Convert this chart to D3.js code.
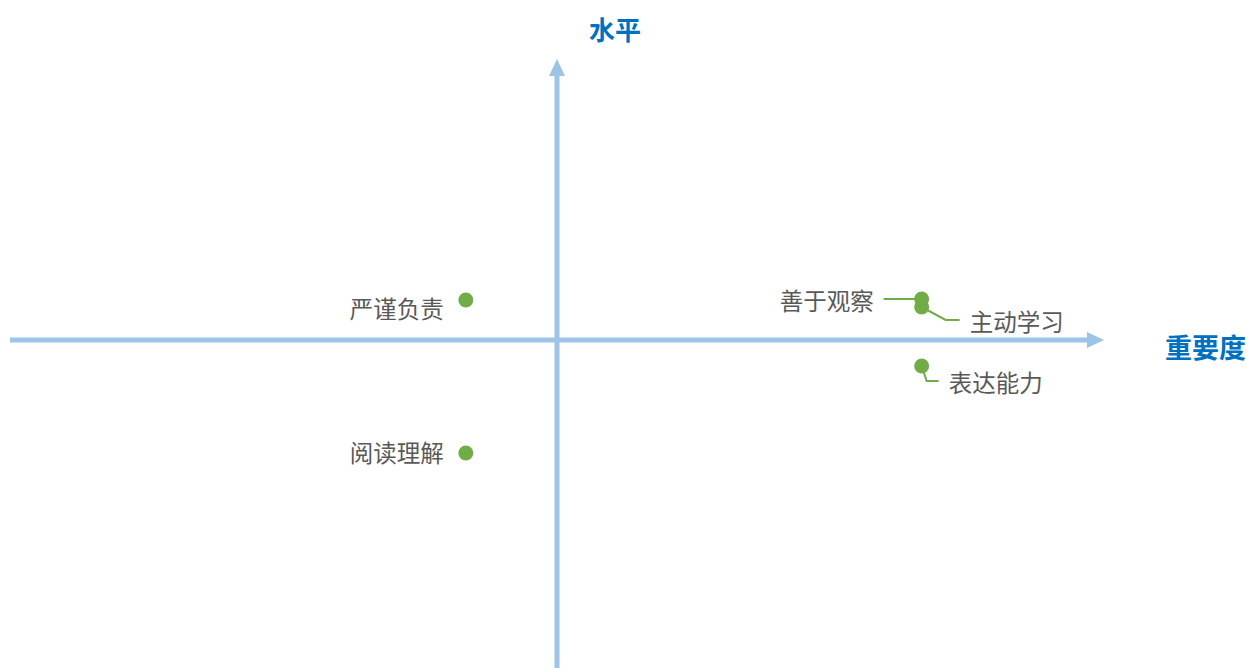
<!DOCTYPE html>
<html>
<head>
<meta charset="utf-8">
<script src="https://d3js.org/d3.v7.min.js"></script>
<style>
  body { margin: 0; background: #fff; }
  text { font-family: "Noto Sans CJK SC", "Noto Sans", sans-serif; }
</style>
</head>
<body>
<script>
  // data
  var names = ["严谨负责", "阅读理解", "善于观察", "主动学习", "表达能力"];
  var importance = [-0.5, -0.5, 2.0, 2.0, 2.0];
  var level = [0.4, -1.13, 0.41, 0.33, -0.26];
  // label side and offsets: [dx, dy] from point, and anchor
  var labelPos = [
    { dx: -22, dy: 8, anchor: "end", leader: null },
    { dx: -22, dy: -1, anchor: "end", leader: null },
    { dx: -48, dy: 1, anchor: "end", leader: [[0, 0], [-38, 0]] },
    { dx: 48, dy: 14, anchor: "start", leader: [[0, 0], [24, 13], [38, 13]] },
    { dx: 27, dy: 16, anchor: "start", leader: [[0, 0], [5, 15], [17, 15]] }
  ];

  const W = 1248, H = 668;
  const axisColor = "#9DC3E6";
  const titleColor = "#0070C0";
  const pointColor = "#70AD47";

  var svg = d3.select("body").append("svg")
    .attr("width", W).attr("height", H);

  var x = d3.scaleLinear().domain([-3, 3]).range([10, 1104]);
  var y = d3.scaleLinear().domain([-3, 3]).range([640, 40]);

  var x0 = x(0), y0 = y(0);

  // horizontal axis
  svg.append("line")
    .attr("x1", x.range()[0]).attr("y1", y0)
    .attr("x2", x.range()[1] - 16).attr("y2", y0)
    .attr("stroke", axisColor).attr("stroke-width", 5);
  svg.append("path")
    .attr("d", `M${x.range()[1] - 17},${y0 - 8} L${x.range()[1]},${y0} L${x.range()[1] - 17},${y0 + 8} Z`)
    .attr("fill", axisColor);

  // vertical axis
  var yTip = 59;
  svg.append("line")
    .attr("x1", x0).attr("y1", H)
    .attr("x2", x0).attr("y2", yTip + 16)
    .attr("stroke", axisColor).attr("stroke-width", 5);
  svg.append("path")
    .attr("d", `M${x0 - 8},${yTip + 17} L${x0},${yTip} L${x0 + 8},${yTip + 17} Z`)
    .attr("fill", axisColor);

  // axis titles
  svg.append("text")
    .attr("x", 615).attr("y", 40)
    .attr("text-anchor", "middle")
    .attr("fill", titleColor)
    .attr("font-size", 26)
    .attr("font-weight", "bold")
    .text("水平");
  svg.append("text")
    .attr("x", 1246).attr("y", 358)
    .attr("text-anchor", "end")
    .attr("fill", titleColor)
    .attr("font-size", 27)
    .attr("font-weight", "bold")
    .text("重要度");

  var data = names.map((n, i) => ({ name: n, x: importance[i], y: level[i], lp: labelPos[i] }));

  // leader lines
  var line = d3.line();
  svg.selectAll("path.leader")
    .data(data.filter(d => d.lp.leader))
    .enter().append("path")
    .attr("class", "leader")
    .attr("d", d => line(d.lp.leader.map(p => [x(d.x) + p[0], y(d.y) + p[1]])))
    .attr("fill", "none")
    .attr("stroke", pointColor)
    .attr("stroke-width", 2);

  svg.selectAll("circle")
    .data(data)
    .enter().append("circle")
    .attr("cx", d => x(d.x))
    .attr("cy", d => y(d.y))
    .attr("r", 7.5)
    .attr("fill", pointColor);

  svg.selectAll("text.label")
    .data(data)
    .enter().append("text")
    .attr("class", "label")
    .attr("x", d => x(d.x) + d.lp.dx)
    .attr("y", d => y(d.y) + d.lp.dy)
    .attr("text-anchor", d => d.lp.anchor)
    .attr("dominant-baseline", "central")
    .attr("fill", "#595959")
    .attr("font-size", 23.5)
    .text(d => d.name);
</script>
</body>
</html>
